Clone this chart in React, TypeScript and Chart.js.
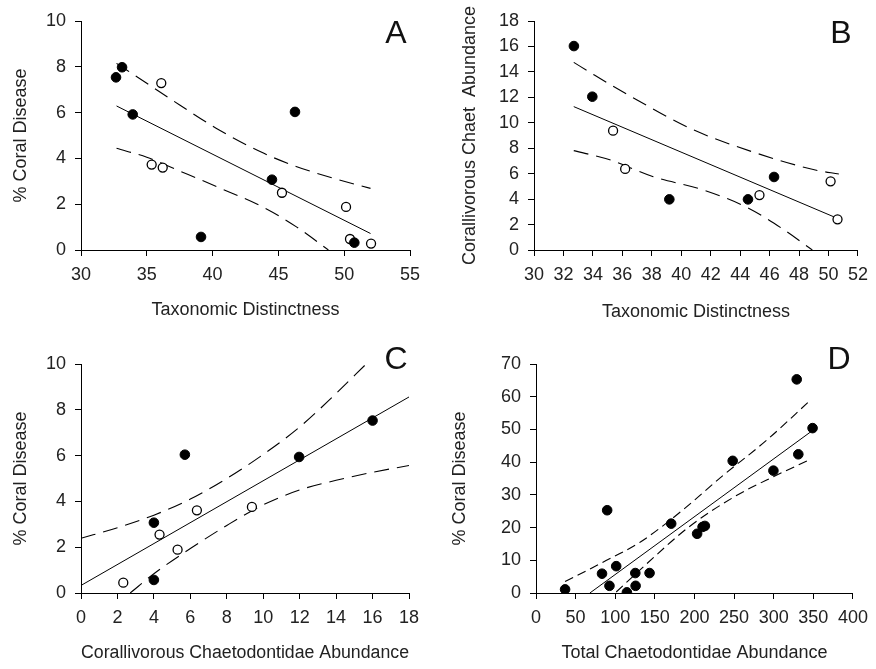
import React, { useEffect, useRef } from "react";
import { Chart, registerables } from "chart.js";

Chart.register(...registerables);

// ---------- Panel A: % Coral Disease vs Taxonomic Distinctness ----------
const A_FILLED_X = [32.66, 33.12, 33.93, 39.12, 44.51, 46.26, 50.77];
const A_FILLED_Y = [7.54, 7.98, 5.92, 0.57, 3.07, 6.03, 0.32];
const A_OPEN_X = [35.37, 36.1, 36.21, 45.27, 50.14, 50.44, 52.04];
const A_OPEN_Y = [3.73, 7.29, 3.6, 2.5, 1.88, 0.48, 0.28];
const A_FIT_X = [32.7, 52.0];
const A_FIT_Y = [6.29, 0.72];
const A_UPPER_X = [32.7, 35.0, 37.5, 40.5, 43.9, 46.4, 49.2, 52.0];
const A_UPPER_Y = [8.15, 7.28, 6.33, 5.24, 4.22, 3.64, 3.13, 2.69];
const A_LOWER_X = [32.7, 35.0, 37.5, 40.5, 43.9, 46.4, 48.8];
const A_LOWER_Y = [4.44, 4.05, 3.45, 2.72, 1.85, 1.0, 0.0];

// ---------- Panel B: Corallivorous Chaet Abundance vs Taxonomic Distinctness ----------
const B_FILLED_X = [32.71, 33.96, 39.19, 44.53, 46.3];
const B_FILLED_Y = [16.03, 12.05, 3.98, 3.98, 5.74];
const B_OPEN_X = [35.37, 36.19, 45.31, 50.14, 50.61];
const B_OPEN_Y = [9.38, 6.37, 4.32, 5.4, 2.41];
const B_FIT_X = [32.7, 50.6];
const B_FIT_Y = [11.27, 2.49];
const B_UPPER_X = [32.7, 34.1, 37.0, 40.6, 44.8, 49.1, 50.7];
const B_UPPER_Y = [14.75, 13.75, 11.79, 9.56, 7.73, 6.29, 5.97];
const B_LOWER_X = [32.7, 35.2, 38.1, 41.5, 44.6, 47.0, 48.9];
const B_LOWER_Y = [7.81, 7.07, 5.76, 4.72, 3.27, 1.57, 0.0];

// ---------- Panel C: % Coral Disease vs Corallivorous Chaetodontidae Abundance ----------
const C_FILLED_X = [4.0, 4.0, 5.7, 11.97, 16.0];
const C_FILLED_Y = [3.07, 0.57, 6.04, 5.94, 7.53];
const C_OPEN_X = [2.32, 4.31, 5.3, 6.36, 9.38];
const C_OPEN_Y = [0.45, 2.55, 1.89, 3.61, 3.76];
const C_FIT_X = [0, 18];
const C_FIT_Y = [0.33, 8.56];
const C_UPPER_X = [0, 2, 4, 6, 8, 10, 12, 13.8, 15.7];
const C_UPPER_Y = [2.39, 2.85, 3.4, 4.1, 5.0, 6.05, 7.25, 8.56, 10.04];
const C_LOWER_X = [2.7, 4, 6, 8, 10, 12, 14, 16, 18];
const C_LOWER_Y = [0, 0.84, 1.94, 2.95, 3.85, 4.5, 4.92, 5.27, 5.57];

// ---------- Panel D: % Coral Disease vs Total Chaetodontidae Abundance ----------
const D_X = [36.7, 83.3, 89.8, 92.7, 101.2, 114.7, 125.3, 125.7, 143.3, 170.6, 203.3, 210.2, 213.1, 248.2, 299.6, 329.0, 331.0, 349.0];
const D_Y = [1.1, 5.9, 25.3, 2.2, 8.2, 0.2, 6.1, 2.2, 6.1, 21.2, 18.1, 20.2, 20.5, 40.4, 37.4, 65.3, 42.4, 50.4];
const D_FIT_X = [68, 348];
const D_FIT_Y = [0, 49.5];
const D_UPPER_X = [36.7, 82.8, 131.8, 184.9, 233.9, 291.0, 346.1];
const D_UPPER_Y = [3.5, 9.2, 15.6, 25.3, 35.5, 46.7, 58.9];
const D_LOWER_X = [101.2, 140, 193, 250.2, 299.2, 346.1];
const D_LOWER_Y = [0.3, 9.0, 20.2, 29.4, 35.5, 40.8];

const FONT = '"Liberation Sans", Arial, Helvetica, sans-serif';
const TEXT_COLOR = "#222";

function pts(xs: number[], ys: number[]) {
  return xs.map((x, i) => ({ x, y: ys[i] }));
}

const letterPlugin = {
  id: "panelLetter",
  afterDraw(chart: any, _args: any, opts: any) {
    const ctx = chart.ctx;
    ctx.save();
    ctx.font = `32px ${FONT}`;
    ctx.fillStyle = "#111";
    ctx.textAlign = "center";
    ctx.textBaseline = "alphabetic";
    ctx.fillText(opts.text, opts.x, opts.y);
    ctx.restore();
  },
};

type PanelCfg = {
  left: number;
  top: number;
  width: number;
  height: number;
  area: { l: number; r: number; t: number; b: number };
  xMin: number;
  xMax: number;
  xStep: number;
  yMin: number;
  yMax: number;
  yStep: number;
  xTitle: string;
  yTitle: string;
  xTitlePad: number;
  yTitlePad: number;
  letter: string;
  letterX: number;
  letterY: number;
  filled: { x: number; y: number }[];
  open: { x: number; y: number }[] | null;
  fit: { x: number; y: number }[];
  upper: { x: number; y: number }[];
  lower: { x: number; y: number }[];
  dash: number[];
  pointR: number;
};

function Panel({ cfg }: { cfg: PanelCfg }) {
  const ref = useRef<HTMLCanvasElement | null>(null);
  useEffect(() => {
    if (!ref.current) return;
    const { area } = cfg;
    const datasets: any[] = [];
    datasets.push({
      data: cfg.filled,
      showLine: false,
      pointRadius: cfg.pointR,
      pointBackgroundColor: "#000",
      pointBorderColor: "#000",
      pointBorderWidth: 1,
    });
    if (cfg.open) {
      datasets.push({
        data: cfg.open,
        showLine: false,
        pointRadius: 4.5,
        pointBackgroundColor: "#fff",
        pointBorderColor: "#000",
        pointBorderWidth: 1.3,
      });
    }
    datasets.push({
      data: cfg.fit,
      showLine: true,
      pointRadius: 0,
      borderColor: "#000",
      borderWidth: 1,
    });
    for (const band of [cfg.upper, cfg.lower]) {
      datasets.push({
        data: band,
        showLine: true,
        pointRadius: 0,
        borderColor: "#000",
        borderWidth: 1.1,
        borderDash: cfg.dash,
        cubicInterpolationMode: "monotone",
      });
    }

    const xAxisH = cfg.height - area.b;
    const chart = new Chart(ref.current, {
      type: "scatter",
      data: { datasets },
      plugins: [letterPlugin],
      options: {
        responsive: false,
        animation: false,
        events: [],
        layout: {
          padding: { left: 0, top: area.t, right: cfg.width - area.r, bottom: 0 },
        },
        plugins: {
          legend: { display: false },
          tooltip: { enabled: false },
          panelLetter: { text: cfg.letter, x: cfg.letterX, y: cfg.letterY },
        } as any,
        scales: {
          x: {
            type: "linear",
            min: cfg.xMin,
            max: cfg.xMax,
            ticks: {
              stepSize: cfg.xStep,
              autoSkip: false,
              maxRotation: 0,
              minRotation: 0,
              padding: 8,
              color: TEXT_COLOR,
              font: { family: FONT, size: 18 },
            },
            grid: {
              drawOnChartArea: false,
              drawTicks: true,
              tickLength: 6,
              color: "#000",
              tickColor: "#000",
              lineWidth: 1,
            },
            border: { display: true, color: "#000", width: 1 },
            title: {
              display: true,
              text: cfg.xTitle,
              color: TEXT_COLOR,
              font: { family: FONT, size: 18 },
              padding: { top: 0, bottom: cfg.xTitlePad },
            },
            afterFit: (s: any) => {
              s.height = xAxisH;
            },
          },
          y: {
            type: "linear",
            min: cfg.yMin,
            max: cfg.yMax,
            ticks: {
              stepSize: cfg.yStep,
              autoSkip: false,
              padding: 9,
              color: TEXT_COLOR,
              font: { family: FONT, size: 18 },
            },
            grid: {
              drawOnChartArea: false,
              drawTicks: true,
              tickLength: 6,
              color: "#000",
              tickColor: "#000",
              lineWidth: 1,
            },
            border: { display: true, color: "#000", width: 1 },
            title: {
              display: true,
              text: cfg.yTitle,
              color: TEXT_COLOR,
              font: { family: FONT, size: 18 },
              padding: { top: cfg.yTitlePad, bottom: 0 },
            },
            afterFit: (s: any) => {
              s.width = area.l;
            },
          },
        },
      } as any,
    });
    return () => chart.destroy();
  }, [cfg]);

  return (
    <canvas
      ref={ref}
      width={cfg.width}
      height={cfg.height}
      style={{ position: "absolute", left: cfg.left, top: cfg.top, width: cfg.width, height: cfg.height }}
    />
  );
}

const PANELS: PanelCfg[] = [
  {
    left: 0, top: 0, width: 438, height: 330,
    area: { l: 81, r: 410, t: 21, b: 250 },
    xMin: 30, xMax: 55, xStep: 5, yMin: 0, yMax: 10, yStep: 2,
    xTitle: "Taxonomic Distinctness", yTitle: "% Coral Disease",
    xTitlePad: 9, yTitlePad: 10,
    letter: "A", letterX: 396, letterY: 43,
    filled: pts(A_FILLED_X, A_FILLED_Y), open: pts(A_OPEN_X, A_OPEN_Y),
    fit: pts(A_FIT_X, A_FIT_Y), upper: pts(A_UPPER_X, A_UPPER_Y), lower: pts(A_LOWER_X, A_LOWER_Y),
    dash: [15, 8], pointR: 4.8,
  },
  {
    left: 438, top: 0, width: 438, height: 330,
    area: { l: 96, r: 424, t: 21, b: 250 },
    xMin: 30, xMax: 52, xStep: 2, yMin: 0, yMax: 18, yStep: 2,
    xTitle: "Taxonomic Distinctness", yTitle: "Corallivorous Chaet  Abundance",
    xTitlePad: 7, yTitlePad: 21,
    letter: "B", letterX: 403, letterY: 43,
    filled: pts(B_FILLED_X, B_FILLED_Y), open: pts(B_OPEN_X, B_OPEN_Y),
    fit: pts(B_FIT_X, B_FIT_Y), upper: pts(B_UPPER_X, B_UPPER_Y), lower: pts(B_LOWER_X, B_LOWER_Y),
    dash: [15, 8], pointR: 4.8,
  },
  {
    left: 0, top: 330, width: 438, height: 339,
    area: { l: 81, r: 409, t: 34, b: 263 },
    xMin: 0, xMax: 18, xStep: 2, yMin: 0, yMax: 10, yStep: 2,
    xTitle: "Corallivorous Chaetodontidae Abundance", yTitle: "% Coral Disease",
    xTitlePad: 5, yTitlePad: 10,
    letter: "C", letterX: 396, letterY: 39,
    filled: pts(C_FILLED_X, C_FILLED_Y), open: pts(C_OPEN_X, C_OPEN_Y),
    fit: pts(C_FIT_X, C_FIT_Y), upper: pts(C_UPPER_X, C_UPPER_Y), lower: pts(C_LOWER_X, C_LOWER_Y),
    dash: [15, 8], pointR: 4.8,
  },
  {
    left: 438, top: 330, width: 438, height: 339,
    area: { l: 98, r: 424, t: 34, b: 263 },
    xMin: 0, xMax: 400, xStep: 50, yMin: 0, yMax: 70, yStep: 10,
    xTitle: "Total Chaetodontidae Abundance", yTitle: "% Coral Disease",
    xTitlePad: 5, yTitlePad: 11,
    letter: "D", letterX: 401, letterY: 39,
    filled: pts(D_X, D_Y), open: null,
    fit: pts(D_FIT_X, D_FIT_Y), upper: pts(D_UPPER_X, D_UPPER_Y), lower: pts(D_LOWER_X, D_LOWER_Y),
    dash: [9, 5], pointR: 4.8,
  },
];

export default function App() {
  return (
    <div style={{ position: "absolute", left: 0, top: 0, width: 876, height: 669, background: "#fff" }}>
      {PANELS.map((p) => (
        <Panel key={p.letter} cfg={p} />
      ))}
    </div>
  );
}
